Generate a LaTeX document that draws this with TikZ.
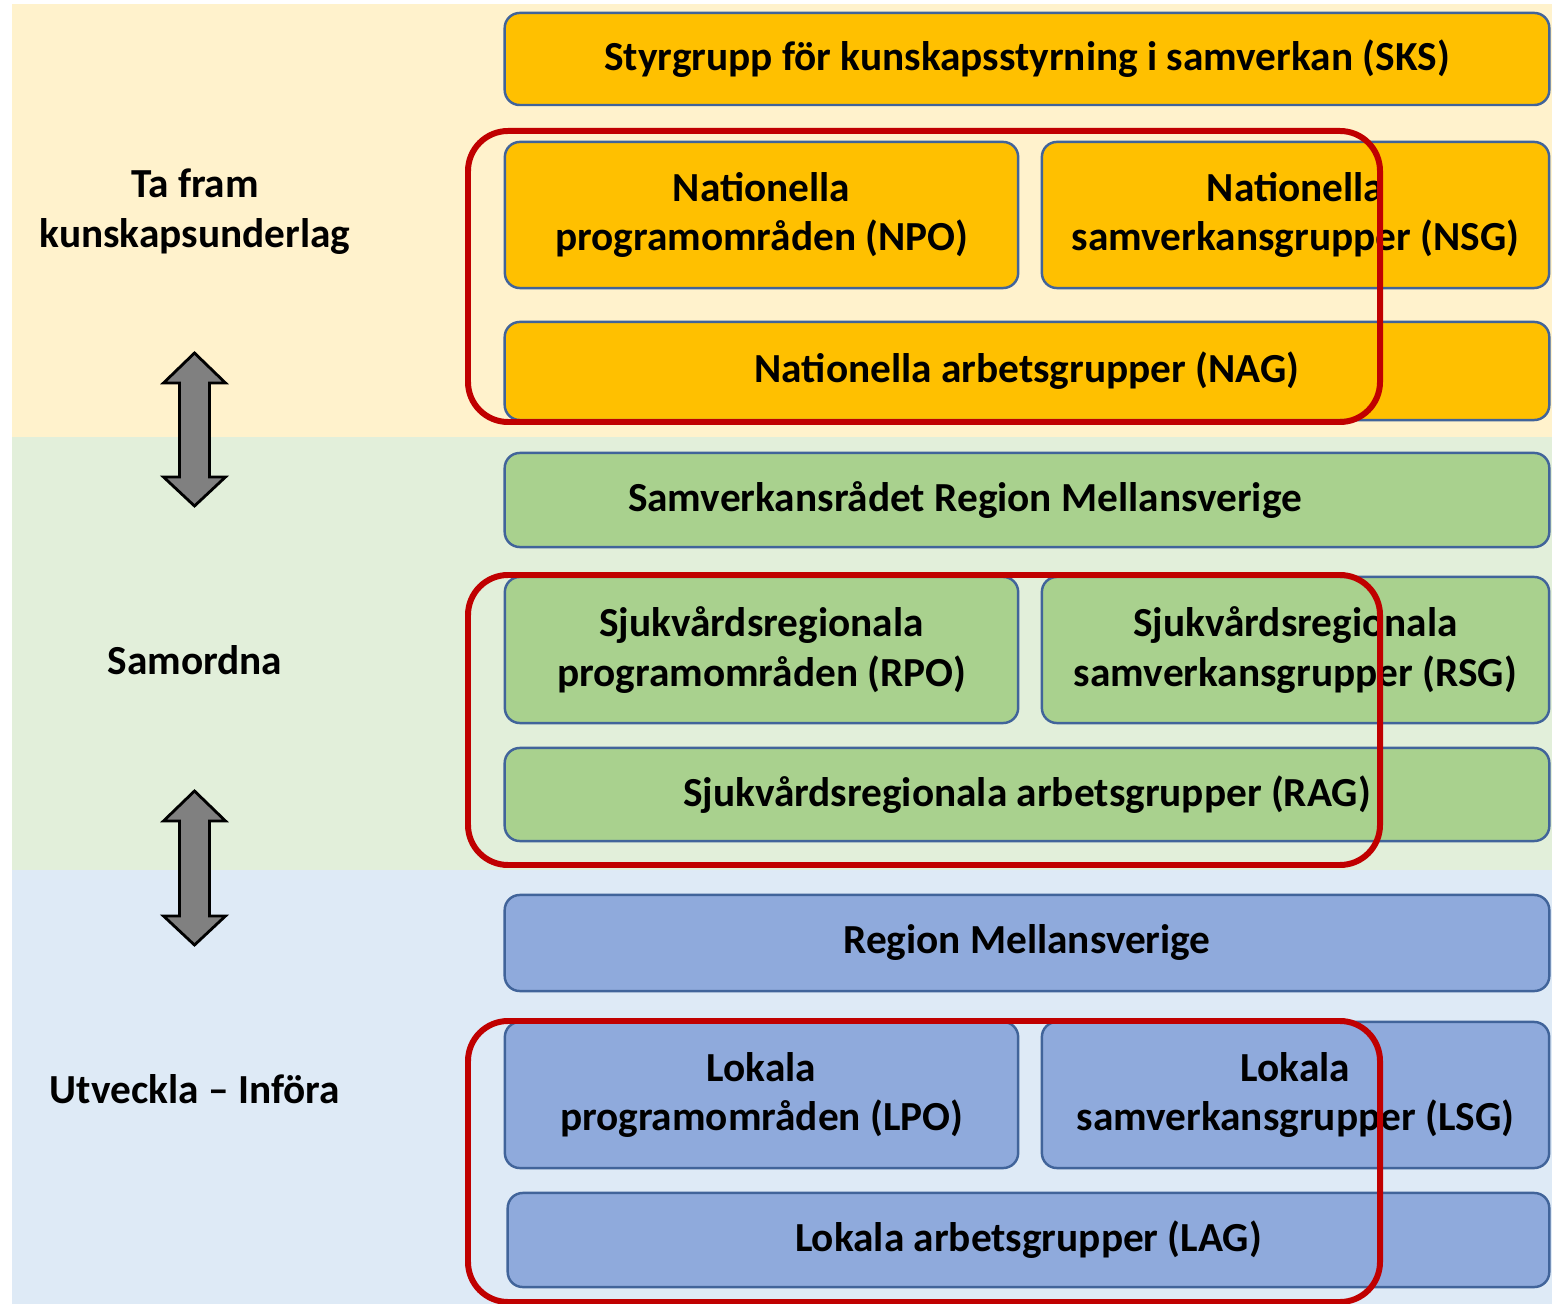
\documentclass[tikz,border=0pt]{standalone}
\usepackage{fontspec}
\setmainfont{Carlito}
\usepackage{tikz}

\definecolor{bandY}{HTML}{FFF2CC}
\definecolor{bandG}{HTML}{E2EFDA}
\definecolor{bandB}{HTML}{DEEAF6}
\definecolor{boxY}{HTML}{FFC000}
\definecolor{boxG}{HTML}{A9D18E}
\definecolor{boxB}{HTML}{8FAADC}
\definecolor{boxline}{HTML}{41649A}
\definecolor{grpred}{HTML}{C00000}
\definecolor{arrowgray}{HTML}{808080}

\tikzset{
    lvlbox/.style={draw=boxline, line width=0.7pt, rounded corners=0.15cm, align=center, inner sep=0pt},
    wide/.style={lvlbox, minimum width=10.44cm, minimum height=#1},
    halfL/.style={lvlbox, minimum width=5.13cm, minimum height=1.46cm},
    halfR/.style={lvlbox, minimum width=5.07cm, minimum height=1.46cm},
    grp/.style={draw=grpred, line width=1.7pt, rounded corners=0.4cm},
    updown/.style={draw=black, line width=0.8pt, fill=arrowgray, line join=miter},
    side/.style={align=center}
}

\begin{document}
\begin{tikzpicture}[x=0.01cm, y=-0.01cm, font=\fontsize{11.75}{14.2}\selectfont\bfseries]
    \useasboundingbox (0,0) rectangle (1552,1304);

    % bands
    \fill[bandY] (12,4) rectangle (1552,437);
    \fill[bandG] (12,437) rectangle (1552,870);
    \fill[bandB] (12,870) rectangle (1552,1304);

    % left labels
    \node[side] (tafram) at (195,212) {Ta fram\\kunskapsunderlag};
    \node[side] (samordna) at (195,660) {Samordna};
    \node[side] (utveckla) at (195,1089) {Utveckla -- Införa};

    % double arrows
    \foreach \t/\b in {353/506, 791/945} {
        \draw[updown] (194.5,\t) -- (225.5,\t+30) -- (209.5,\t+30) -- (209.5,\b-29)
            -- (225.5,\b-29) -- (194.5,\b) -- (163.5,\b-29) -- (179.5,\b-29)
            -- (179.5,\t+30) -- (163.5,\t+30) -- cycle;
    }

    % national level
    \node[wide=0.92cm, fill=boxY] (sks) at (1027,59) {Styrgrupp för kunskapsstyrning i samverkan (SKS)};
    \node[halfL, fill=boxY] (npo) at (761.5,215) {Nationella\\programområden (NPO)};
    \node[halfR, fill=boxY] (nsg) at (1295.5,215) {Nationella\\samverkansgrupper (NSG)};
    \node[wide=0.98cm, fill=boxY] (nag) at (1027,371) {Nationella arbetsgrupper (NAG)};

    % regional level
    \node[wide=0.94cm, fill=boxG] (smr) at (1027,500) {Samverkansrådet Region Mellansverige\hspace*{1.24cm}};
    \node[halfL, fill=boxG] (rpo) at (761.5,650) {Sjukvårdsregionala\\programområden (RPO)};
    \node[halfR, fill=boxG] (rsg) at (1295.5,650) {Sjukvårdsregionala\\samverkansgrupper (RSG)};
    \node[wide=0.93cm, fill=boxG] (rag) at (1027,794.5) {Sjukvårdsregionala arbetsgrupper (RAG)};

    % local level
    \node[wide=0.96cm, fill=boxB] (rm) at (1027,943) {Region Mellansverige};
    \node[halfL, fill=boxB] (lpo) at (761.5,1095) {Lokala\\programområden (LPO)};
    \node[halfR, fill=boxB] (lsg) at (1295.5,1095) {Lokala\\samverkansgrupper (LSG)};
    \node[lvlbox, minimum width=10.41cm, minimum height=0.94cm, fill=boxB] (lag) at (1028.5,1240) {Lokala arbetsgrupper (LAG)};

    % red frames
    \draw[grp] (468,131) rectangle (1380,422);
    \draw[grp] (468,575) rectangle (1380,865);
    \draw[grp] (468,1021) rectangle (1380,1302);
\end{tikzpicture}
\end{document}
